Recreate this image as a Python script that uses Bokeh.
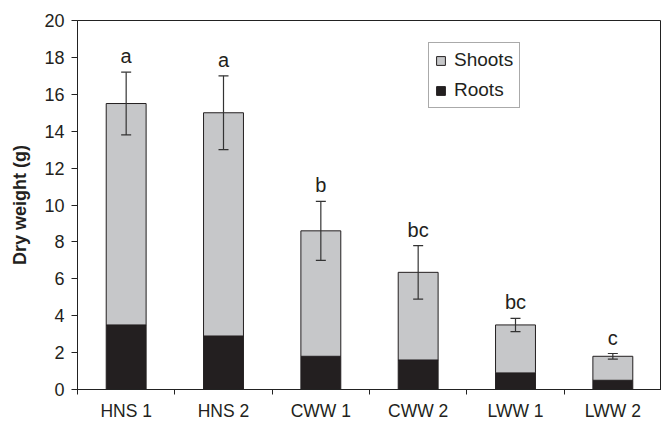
from bokeh.plotting import figure
from bokeh.models import (ColumnDataSource, Whisker, TeeHead, FixedTicker, Legend, LegendItem, Range1d)
from bokeh.core.properties import value
from bokeh.embed import file_html
from bokeh.resources import INLINE

categories = ["HNS 1", "HNS 2", "CWW 1", "CWW 2", "LWW 1", "LWW 2"]
roots = [3.5, 2.9, 1.8, 1.6, 0.9, 0.5]
shoots = [12.0, 12.1, 6.8, 4.75, 2.6, 1.3]
errors = [1.7, 2.0, 1.6, 1.45, 0.36, 0.15]
letters = ["a", "a", "b", "bc", "bc", "c"]
y_ticks = [0, 2, 4, 6, 8, 10, 12, 14, 16, 18, 20]

xpos = [i + 0.5 for i in range(len(categories))]
totals = [r + s for r, s in zip(roots, shoots)]
src = ColumnDataSource(dict(
    x=xpos, roots=roots, shoots=shoots, total=totals,
    upper=[t + e for t, e in zip(totals, errors)],
    lower=[t - e for t, e in zip(totals, errors)],
    letter=letters,
))

FONT = "Liberation Sans"
DARK = "#231f20"
p = figure(output_backend="svg", toolbar_location=None,
           width=661, height=425,
           frame_width=584, frame_height=369,
           min_border_left=77, min_border_top=20, min_border_right=0, min_border_bottom=36,
           x_range=Range1d(0, 6), y_range=Range1d(0, 20))
p.grid.visible = False
p.outline_line_color = "#222222"
p.outline_line_width = 1
p.background_fill_color = "white"
p.border_fill_color = "white"

rs = p.vbar_stack(["roots", "shoots"], x="x", width=0.41, source=src,
                  color=[DARK, "#c6c7c9"], line_color=DARK, line_width=1)

head_kw = dict(size=10, line_color="#333333", line_width=1.2)
p.add_layout(Whisker(source=src, base="x", upper="upper", lower="lower",
                     line_color="#333333", line_width=1.2, level="overlay",
                     upper_head=TeeHead(**head_kw), lower_head=TeeHead(**head_kw)))

p.text(x="x", y="upper", text="letter", source=src, text_align="center",
       text_baseline="bottom", y_offset=-5, text_font=value(FONT),
       text_font_size="20px", text_color=DARK)

# axes
p.yaxis.ticker = FixedTicker(ticks=y_ticks)
p.yaxis.major_tick_out = 6
p.yaxis.major_tick_in = 0
p.yaxis.minor_tick_line_color = None
p.yaxis.axis_label = "Dry weight (g)"
p.yaxis.axis_label_text_font = FONT
p.yaxis.axis_label_text_font_style = "bold"
p.yaxis.axis_label_text_font_size = "18px"
p.yaxis.axis_label_standoff = 11
p.yaxis.major_label_text_font = FONT
p.yaxis.major_label_text_font_size = "18px"
p.yaxis.major_label_standoff = 7

p.xaxis.ticker = FixedTicker(ticks=xpos, minor_ticks=list(range(len(categories) + 1)))
p.xaxis.major_label_overrides = {x: c for x, c in zip(xpos, categories)}
p.xaxis.major_tick_out = 0
p.xaxis.major_tick_in = 0
p.xaxis.minor_tick_out = 5
p.xaxis.minor_tick_in = 0
p.xaxis.major_label_text_font = FONT
p.xaxis.major_label_text_font_size = "17.5px"
p.xaxis.major_label_standoff = 6

for ax in (p.xaxis[0], p.yaxis[0]):
    ax.axis_line_color = "#222222"
    ax.major_tick_line_color = "#222222"
    ax.major_label_text_color = DARK
    ax.axis_label_text_color = DARK
p.xaxis.minor_tick_line_color = "#222222"

legend = Legend(items=[LegendItem(label="Shoots", renderers=[rs[1]]),
                       LegendItem(label="Roots", renderers=[rs[0]])],
                location=(351, 281), orientation="vertical",
                glyph_width=11, glyph_height=11, label_height=22,
                label_text_font=FONT, label_text_font_size="19px",
                label_text_color=DARK, label_text_baseline="middle",
                spacing=8, padding=6, margin=0, label_standoff=8,
                border_line_color="#555555", border_line_width=1,
                background_fill_alpha=1)
p.add_layout(legend, "center")

open("out.html", "w").write(file_html(p, INLINE))
